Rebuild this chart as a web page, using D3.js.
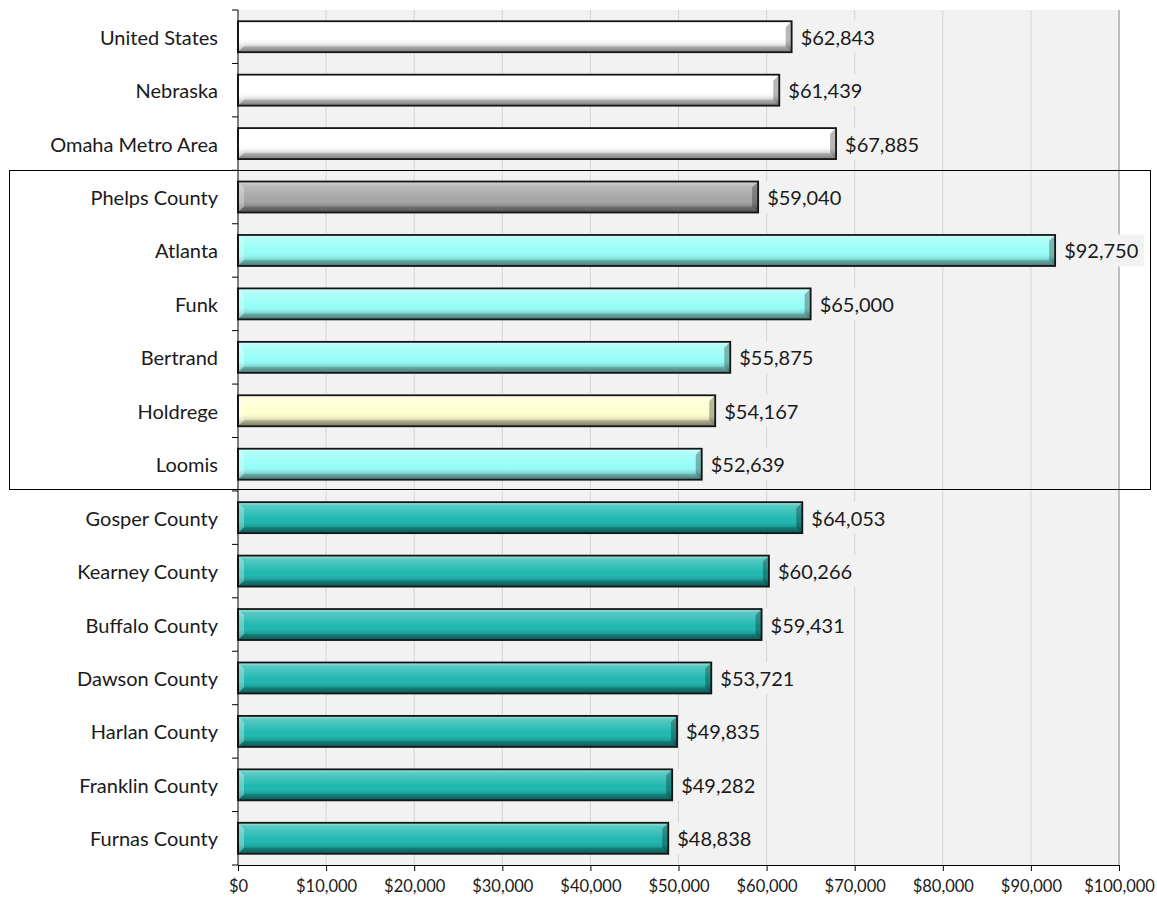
<!DOCTYPE html>
<html>
<head>
<meta charset="utf-8">
<script src="https://cdn.jsdelivr.net/npm/d3@7"></script>
<style>
  body { margin: 0; background: #fff; }
  text { font-family: Lato, "Open Sans", sans-serif; fill: #1a1a1a; }
</style>
</head>
<body>
<div id="chart"></div>
<script>
// median household income
const places = ['United States', 'Nebraska', 'Omaha Metro Area', 'Phelps County', 'Atlanta', 'Funk',
  'Bertrand', 'Holdrege', 'Loomis', 'Gosper County', 'Kearney County', 'Buffalo County',
  'Dawson County', 'Harlan County', 'Franklin County', 'Furnas County'];
const incomes = [62843, 61439, 67885, 59040, 92750, 65000, 55875, 54167, 52639,
  64053, 60266, 59431, 53721, 49835, 49282, 48838];
const kinds = ['benchmark', 'benchmark', 'benchmark', 'home', 'town', 'town', 'town', 'seat', 'town',
  'county', 'county', 'county', 'county', 'county', 'county', 'county'];
const xTicks = [0, 10000, 20000, 30000, 40000, 50000, 60000, 70000, 80000, 90000, 100000];
const boxed = ['Phelps County', 'Loomis'];

const fills = {
  benchmark: '#ffffff',
  home: '#a6a6a6',
  town: '#97fdf7',
  seat: '#ffffd2',
  county: '#1fb8b0'
};

const width = 1157, height = 900;
const margin = { top: 10, right: 38, bottom: 35, left: 238 };

const svg = d3.select('#chart').append('svg')
  .attr('width', width)
  .attr('height', height);

const x = d3.scaleLinear().domain([0, 100000]).range([margin.left, width - margin.right]);
const y = d3.scaleBand().domain(places).range([margin.top, height - margin.bottom])
  .paddingInner(0.42).paddingOuter(0.21);

const defs = svg.append('defs');
const shade = defs.append('linearGradient').attr('id', 'shade')
  .attr('x1', 0).attr('y1', 0).attr('x2', 0).attr('y2', 1);
shade.append('stop').attr('offset', '0%').attr('stop-color', '#fff').attr('stop-opacity', 0.6);
shade.append('stop').attr('offset', '12%').attr('stop-color', '#fff').attr('stop-opacity', 0.25);
shade.append('stop').attr('offset', '55%').attr('stop-color', '#fff').attr('stop-opacity', 0);
shade.append('stop').attr('offset', '75%').attr('stop-color', '#000').attr('stop-opacity', 0.1);
shade.append('stop').attr('offset', '100%').attr('stop-color', '#000').attr('stop-opacity', 0.45);

// plot background
svg.append('rect')
  .attr('x', x(0)).attr('y', margin.top)
  .attr('width', x(100000) - x(0)).attr('height', height - margin.bottom - margin.top)
  .attr('fill', '#f2f2f2');

// vertical gridlines
svg.append('g').selectAll('line')
  .data(xTicks.slice(1))
  .join('line')
  .attr('x1', d => x(d)).attr('x2', d => x(d))
  .attr('y1', margin.top).attr('y2', height - margin.bottom)
  .attr('stroke', d => d === 100000 ? '#bfbfbf' : '#d4d4d4')
  .attr('stroke-width', d => d === 100000 ? 2 : 1);

const rows = places.map((p, i) => ({ name: p, value: incomes[i], kind: kinds[i] }));
const bev = 6;

const bar = svg.append('g').selectAll('g')
  .data(rows)
  .join('g');

bar.append('rect')
  .attr('x', x(0)).attr('y', d => y(d.name))
  .attr('width', d => x(d.value) - x(0)).attr('height', y.bandwidth())
  .attr('fill', d => fills[d.kind]);

bar.append('rect')
  .attr('x', x(0)).attr('y', d => y(d.name))
  .attr('width', d => x(d.value) - x(0)).attr('height', y.bandwidth())
  .attr('fill', 'url(#shade)');

// bevel edges
bar.append('polygon')
  .attr('points', d => {
    const x0 = x(0), y0 = y(d.name), y1 = y0 + y.bandwidth();
    return [[x0, y0], [x0 + bev, y0 + bev], [x0 + bev, y1 - bev], [x0, y1]].join(' ');
  })
  .attr('fill', '#fff').attr('opacity', 0.3);

bar.append('polygon')
  .attr('points', d => {
    const x1 = x(d.value), y0 = y(d.name), y1 = y0 + y.bandwidth();
    return [[x1, y0], [x1 - bev, y0 + bev], [x1 - bev, y1 - bev], [x1, y1]].join(' ');
  })
  .attr('fill', '#000').attr('opacity', 0.28);

bar.append('polygon')
  .attr('points', d => {
    const x0 = x(0), x1 = x(d.value), y1 = y(d.name) + y.bandwidth();
    return [[x0, y1], [x0 + bev, y1 - bev], [x1 - bev, y1 - bev], [x1, y1]].join(' ');
  })
  .attr('fill', '#000').attr('opacity', 0.14);

bar.append('rect')
  .attr('x', x(0)).attr('y', d => y(d.name))
  .attr('width', d => x(d.value) - x(0)).attr('height', y.bandwidth())
  .attr('fill', 'none')
  .attr('stroke', '#151515')
  .attr('stroke-width', 1.8);

// value labels with a plot-coloured backing
const fmt = d3.format('$,');
const lab = svg.append('g').selectAll('g')
  .data(rows)
  .join('g')
  .attr('transform', d => `translate(${x(d.value) + 9},${y(d.name) + y.bandwidth() / 2 + 1})`);

lab.append('text')
  .attr('dy', '0.35em')
  .attr('font-size', 20)
  .text(d => fmt(d.value))
  .each(function() {
    const b = this.getBBox();
    d3.select(this.parentNode).insert('rect', 'text')
      .attr('x', b.x - 6).attr('y', b.y - 4)
      .attr('width', b.width + 12).attr('height', b.height + 8)
      .attr('fill', '#f2f2f2');
  });

// y axis
const yAxis = svg.append('g')
  .attr('transform', `translate(${x(0)},0)`);
yAxis.append('line')
  .attr('y1', margin.top).attr('y2', height - margin.bottom)
  .attr('stroke', '#000');
const bounds = places.map(p => y(p) - y.step() * y.paddingInner() / 2).concat([height - margin.bottom]);
bounds[0] = margin.top;
yAxis.selectAll('.tk')
  .data(bounds)
  .join('line')
  .attr('class', 'tk')
  .attr('x1', -6).attr('x2', 0)
  .attr('y1', d => d).attr('y2', d => d)
  .attr('stroke', '#000');
yAxis.selectAll('text')
  .data(places)
  .join('text')
  .attr('x', -20)
  .attr('y', d => y(d) + y.bandwidth() / 2 + 1)
  .attr('dy', '0.35em')
  .attr('text-anchor', 'end')
  .attr('font-size', 20)
  .text(d => d);

// x axis
const xAxis = svg.append('g')
  .attr('transform', `translate(0,${height - margin.bottom})`)
  .call(d3.axisBottom(x).tickValues(xTicks).tickFormat(d3.format('$,')).tickSizeOuter(0).tickSize(6).tickPadding(9));
xAxis.select('.domain').attr('stroke', '#000');
xAxis.selectAll('.tick line').attr('stroke', '#000');
xAxis.selectAll('.tick text')
  .attr('font-family', 'Lato, sans-serif')
  .attr('font-size', 16.5)
  .attr('fill', '#1a1a1a');

// box round the Phelps County group
const boxTop = y(boxed[0]) - y.step() * y.paddingInner() / 2;
const boxBottom = y(boxed[1]) + y.bandwidth() + y.step() * y.paddingInner() / 2;
svg.append('rect')
  .attr('x', 9.5).attr('y', Math.round(boxTop) + 0.5)
  .attr('width', 1141).attr('height', Math.round(boxBottom - boxTop) - 2)
  .attr('fill', 'none')
  .attr('stroke', '#000')
  .attr('stroke-width', 1);
</script>
</body>
</html>
